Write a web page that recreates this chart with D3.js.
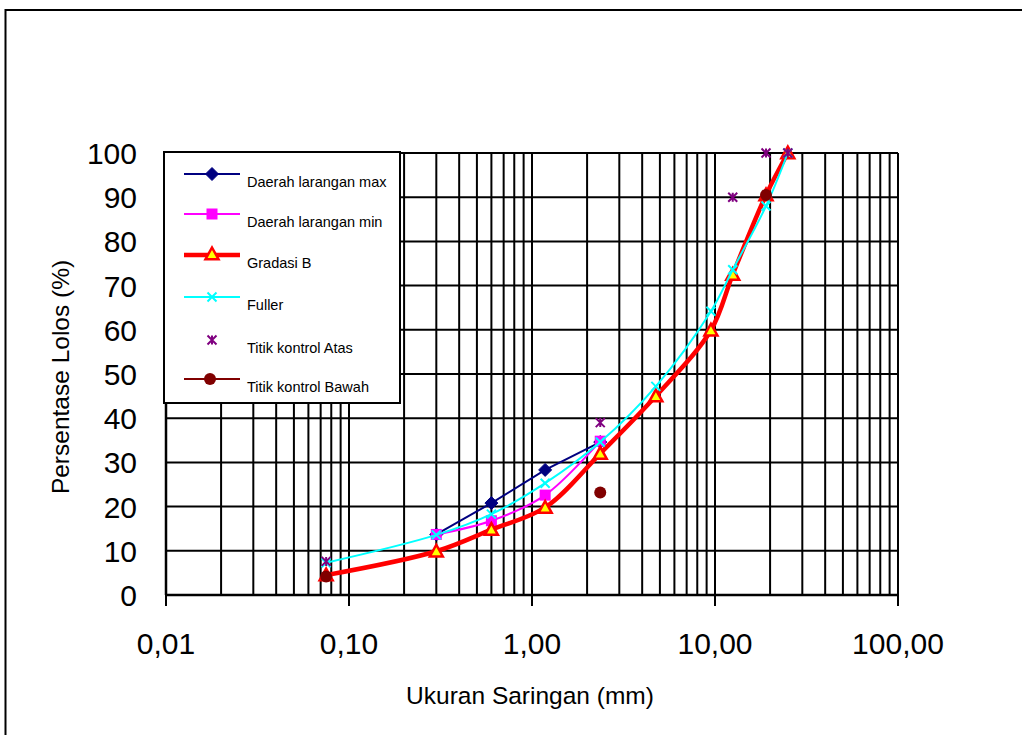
<!DOCTYPE html>
<html><head><meta charset="utf-8">
<script src="https://cdn.jsdelivr.net/npm/d3@7"></script>
<style>body{margin:0;background:#fff}svg{display:block}text{font-family:"Liberation Sans",Arial,sans-serif}</style>
</head><body>
<svg id="c" width="1022" height="735"></svg>
<script>
const xTickValues = [0.01, 0.1, 1, 10, 100];
const xTickLabels = ["0,01", "0,10", "1,00", "10,00", "100,00"];
const yTickValues = [0,10,20,30,40,50,60,70,80,90,100];

const maxSizes = [0.3, 0.6, 1.18, 2.36];
const maxValues = [13.7, 20.8, 28.3, 34.6];
const minSizes = [0.3, 0.6, 1.18, 2.36];
const minValues = [13.7, 16.8, 22.6, 34.8];
const gradSizes = [0.075, 0.3, 0.6, 1.18, 2.36, 4.75, 9.5, 12.5, 19, 25];
const gradValues = [4.5, 9.9, 14.8, 19.8, 32, 45, 59.9, 72.5, 90.5, 100];
const fullerSizes = [0.075, 0.3, 0.6, 1.18, 2.36, 4.75, 9.5, 12.5, 19, 25];
const fullerValues = [7.3, 13.6, 18.3, 25.3, 34.6, 47.2, 64.2, 73.6, 88, 100];
const atasSizes = [0.075, 2.36, 12.5, 19, 25];
const atasValues = [7.6, 39, 90, 100, 100];
const bawahSizes = [0.075, 2.36, 19];
const bawahValues = [4.2, 23.2, 90.5];

const legendLabels = ["Daerah larangan max","Daerah larangan min","Gradasi B","Fuller","Titik kontrol Atas","Titik kontrol Bawah"];

const svg = d3.select("#c");
const x = d3.scaleLog().domain([0.01, 100]).range([166, 898]);
const y = d3.scaleLinear().domain([0, 100]).range([595, 153]);

// outer border
svg.append("rect").attr("x",5.5).attr("y",10).attr("width",1030).attr("height",740)
  .attr("fill","none").attr("stroke","#000").attr("stroke-width",2);

// grid
const minorX = [];
for (let k = -2; k < 2; k++) for (let m = 1; m < 10; m++) minorX.push(m*Math.pow(10,k));
minorX.push(100);
const g = svg.append("g");
g.selectAll("line.v").data(minorX).enter().append("line")
  .attr("x1",d=>x(d)).attr("x2",d=>x(d)).attr("y1",y(100)).attr("y2",y(0))
  .attr("stroke","#000").attr("stroke-width",2);
g.selectAll("line.h").data(yTickValues).enter().append("line")
  .attr("x1",x(0.01)).attr("x2",x(100)).attr("y1",d=>y(d)).attr("y2",d=>y(d))
  .attr("stroke","#000").attr("stroke-width",2);
// major ticks below axis
g.selectAll("line.t").data(xTickValues).enter().append("line")
  .attr("x1",d=>x(d)).attr("x2",d=>x(d)).attr("y1",y(0)).attr("y2",y(0)+11)
  .attr("stroke","#000").attr("stroke-width",2);
g.append("line").attr("x1",x(0.01)-1).attr("x2",x(100)+1).attr("y1",y(0)).attr("y2",y(0))
  .attr("stroke","#000").attr("stroke-width",2.5);
g.append("line").attr("x1",x(0.01)).attr("x2",x(0.01)).attr("y1",y(100)).attr("y2",y(0))
  .attr("stroke","#000").attr("stroke-width",2.5);

// tick labels
svg.selectAll("text.xl").data(xTickValues).enter().append("text")
  .attr("x",d=>x(d)).attr("y",654).attr("text-anchor","middle")
  .attr("font-size",30).text((d,i)=>xTickLabels[i]);
svg.selectAll("text.yl").data(yTickValues).enter().append("text")
  .attr("x",137).attr("y",d=>y(d)+11).attr("text-anchor","end")
  .attr("font-size",30).text(d=>d);

svg.append("text").attr("x",530).attr("y",704).attr("text-anchor","middle")
  .attr("font-size",24.5).text("Ukuran Saringan (mm)");
svg.append("text").attr("transform","translate(69,377) rotate(-90)").attr("text-anchor","middle")
  .attr("font-size",24.5).text("Persentase Lolos (%)");

// markers
function diamond(sel, cx, cy, s, fill){ sel.append("path").attr("d",`M${cx},${cy-s}L${cx+s},${cy}L${cx},${cy+s}L${cx-s},${cy}Z`).attr("fill",fill).attr("stroke",fill).attr("stroke-width",1); }
function square(sel, cx, cy, s, fill){ sel.append("rect").attr("x",cx-s).attr("y",cy-s).attr("width",2*s).attr("height",2*s).attr("fill",fill); }
function triangle(sel, cx, cy, s){ sel.append("path").attr("d",`M${cx},${cy-s}L${cx+s},${cy+s*0.8}L${cx-s},${cy+s*0.8}Z`).attr("fill","#ffff00").attr("stroke","#ff0000").attr("stroke-width",2.5).attr("stroke-linejoin","miter"); }
function xmark(sel, cx, cy, s, col){ sel.append("path").attr("d",`M${cx-s},${cy-s}L${cx+s},${cy+s}M${cx-s},${cy+s}L${cx+s},${cy-s}`).attr("stroke",col).attr("stroke-width",2); }
function star(sel, cx, cy, s, col){ sel.append("path").attr("d",`M${cx-s},${cy-s}L${cx+s},${cy+s}M${cx-s},${cy+s}L${cx+s},${cy-s}M${cx},${cy-s}L${cx},${cy+s}`).attr("stroke",col).attr("stroke-width",2); }
function circle(sel, cx, cy, r, col){ sel.append("circle").attr("cx",cx).attr("cy",cy).attr("r",r).attr("fill",col); }

const pts = (xs, vs) => xs.map((d,i)=>[x(d), y(vs[i])]);
const linLine = d3.line();
const smLine = d3.line().curve(d3.curveCatmullRom.alpha(0.5));

const plot = svg.append("g");
// Daerah larangan max
plot.append("path").attr("d",linLine(pts(maxSizes,maxValues))).attr("fill","none").attr("stroke","#000080").attr("stroke-width",2);
pts(maxSizes,maxValues).forEach(p=>diamond(plot,p[0],p[1],6.5,"#000080"));
// min
plot.append("path").attr("d",smLine(pts(minSizes,minValues))).attr("fill","none").attr("stroke","#ff00ff").attr("stroke-width",2);
pts(minSizes,minValues).forEach(p=>square(plot,p[0],p[1],5.5,"#ff00ff"));
// Gradasi B
plot.append("path").attr("d",smLine(pts(gradSizes,gradValues))).attr("fill","none").attr("stroke","#ff0000").attr("stroke-width",4.5).attr("stroke-linejoin","round");
pts(gradSizes,gradValues).forEach(p=>triangle(plot,p[0],p[1],6.5));
// Fuller
plot.append("path").attr("d",smLine(pts(fullerSizes,fullerValues))).attr("fill","none").attr("stroke","#00ffff").attr("stroke-width",2);
pts(fullerSizes,fullerValues).forEach(p=>xmark(plot,p[0],p[1],4.5,"#00ffff"));
// Atas
pts(atasSizes,atasValues).forEach(p=>star(plot,p[0],p[1],4.5,"#800080"));
// Bawah
pts(bawahSizes,bawahValues).forEach(p=>circle(plot,p[0],p[1],6,"#800000"));

// legend
const lg = svg.append("g");
lg.append("rect").attr("x",164).attr("y",152).attr("width",236).attr("height",251)
  .attr("fill","#fff").attr("stroke","#000").attr("stroke-width",2);
const ly = [174, 214, 255, 297, 340, 379];
const drawers = [
  (cy)=>{ lg.append("line").attr("x1",184).attr("x2",240).attr("y1",cy).attr("y2",cy).attr("stroke","#000080").attr("stroke-width",2); diamond(lg,212,cy,6.5,"#000080"); },
  (cy)=>{ lg.append("line").attr("x1",184).attr("x2",240).attr("y1",cy).attr("y2",cy).attr("stroke","#ff00ff").attr("stroke-width",2); square(lg,212,cy,5.5,"#ff00ff"); },
  (cy)=>{ lg.append("line").attr("x1",184).attr("x2",240).attr("y1",cy).attr("y2",cy).attr("stroke","#ff0000").attr("stroke-width",4.5); triangle(lg,212,cy-1,6.5); },
  (cy)=>{ lg.append("line").attr("x1",184).attr("x2",240).attr("y1",cy).attr("y2",cy).attr("stroke","#00ffff").attr("stroke-width",2); xmark(lg,212,cy,4.5,"#00ffff"); },
  (cy)=>{ star(lg,212,cy,4.5,"#800080"); },
  (cy)=>{ lg.append("line").attr("x1",184).attr("x2",240).attr("y1",cy).attr("y2",cy).attr("stroke","#800000").attr("stroke-width",2); circle(lg,210,cy,6,"#800000"); }
];
legendLabels.forEach((t,i)=>{
  drawers[i](ly[i]);
  lg.append("text").attr("x",247).attr("y",ly[i]+13).attr("font-size",14.5).text(t);
});
</script>
</body></html>
